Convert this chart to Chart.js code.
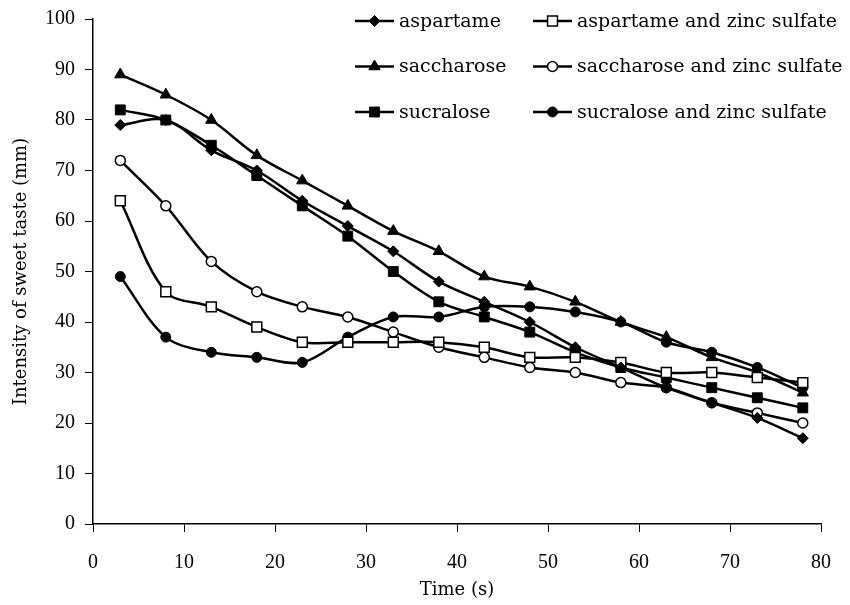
<!DOCTYPE html>
<html>
<head>
<meta charset="utf-8">
<script src="https://cdn.jsdelivr.net/npm/chart.js@4.4.0/dist/chart.umd.min.js"></script>
<style>
  html, body { margin: 0; padding: 0; background: #fff; }
  #wrap { width: 850px; height: 605px; }
</style>
</head>
<body>
<div id="wrap"><canvas id="sweetChart" width="850" height="605"></canvas></div>
<script>
// Données
var times = [3, 8, 13, 18, 23, 28, 33, 38, 43, 48, 53, 58, 63, 68, 73, 78];
var aspartame = [79, 80, 74, 70, 64, 59, 54, 48, 44, 40, 35, 31, 27, 24, 21, 17];
var aspartameZinc = [64, 46, 43, 39, 36, 36, 36, 36, 35, 33, 33, 32, 30, 30, 29, 28];
var saccharose = [89, 85, 80, 73, 68, 63, 58, 54, 49, 47, 44, 40, 37, 33, 30, 26];
var saccharoseZinc = [72, 63, 52, 46, 43, 41, 38, 35, 33, 31, 30, 28, 27, 24, 22, 20];
var sucralose = [82, 80, 75, 69, 63, 57, 50, 44, 41, 38, 34, 31, 29, 27, 25, 23];
var sucraloseZinc = [49, 37, 34, 33, 32, 37, 41, 41, 43, 43, 42, 40, 36, 34, 31, 27];
var seriesNames = ['aspartame', 'aspartame and zinc sulfate', 'saccharose', 'saccharose and zinc sulfate', 'sucralose', 'sucralose and zinc sulfate'];
var xTicks = [0, 10, 20, 30, 40, 50, 60, 70, 80];
var yTicks = [0, 10, 20, 30, 40, 50, 60, 70, 80, 90, 100];

var FONT = "'DejaVu Serif', serif";
var TICK_FONT = "'Liberation Serif', serif";

function points(vals) {
    return times.map(function (t, i) { return { x: t, y: vals[i] }; });
}

function serie(label, vals, style, radius, filled) {
    return {
        label: label,
        data: points(vals),
        borderColor: '#000',
        borderWidth: 2.5,
        tension: 0.33,
        pointStyle: style,
        pointRadius: radius,
        pointHoverRadius: radius,
        pointBackgroundColor: filled ? '#000' : '#fff',
        pointBorderColor: '#000',
        pointBorderWidth: filled ? 1 : 1.5
    };
}

var datasets = [
    serie(seriesNames[0], aspartame, 'rectRot', 5.5, true),
    serie(seriesNames[1], aspartameZinc, 'rect', 7, false),
    serie(seriesNames[2], saccharose, 'triangle', 6.5, true),
    serie(seriesNames[3], saccharoseZinc, 'circle', 5, false),
    serie(seriesNames[4], sucralose, 'rect', 7, true),
    serie(seriesNames[5], sucraloseZinc, 'circle', 5, true)
];

// Légende dessinée à la main (ligne + marqueur au milieu)
var legendCols = [355, 533];
var legendTop = 21;
var legendGap = 45.5;

var lineLegend = {
    id: 'lineLegend',
    afterDraw: function (chart) {
        var ctx = chart.ctx;
        chart.data.datasets.forEach(function (ds, i) {
            var x0 = legendCols[i % 2];
            var y = legendTop + Math.floor(i / 2) * legendGap;
            ctx.save();
            ctx.strokeStyle = '#000';
            ctx.lineWidth = 2.5;
            ctx.beginPath();
            ctx.moveTo(x0, y);
            ctx.lineTo(x0 + 39, y);
            ctx.stroke();
            ctx.fillStyle = ds.pointBackgroundColor;
            ctx.strokeStyle = ds.pointBorderColor;
            ctx.lineWidth = ds.pointBorderWidth;
            Chart.helpers.drawPoint(ctx, {
                pointStyle: ds.pointStyle,
                radius: ds.pointRadius,
                borderWidth: ds.pointBorderWidth,
                rotation: 0
            }, x0 + 19.5, y);
            ctx.fillStyle = '#000';
            ctx.font = '19px ' + FONT;
            ctx.textBaseline = 'middle';
            ctx.textAlign = 'left';
            ctx.fillText(ds.label, x0 + 44, y + 1);
            ctx.restore();
        });
    }
};

var ctx = document.getElementById('sweetChart').getContext('2d');

var myChart = new Chart(ctx, {
    type: 'line',
    data: { datasets: datasets },
    plugins: [lineLegend],
    options: {
        responsive: false,
        animation: false,
        layout: { padding: { left: 0, right: 27, top: 19, bottom: 0 } },
        plugins: {
            legend: { display: false },
            tooltip: { enabled: false }
        },
        scales: {
            x: {
                type: 'linear',
                min: 0,
                max: 80,
                afterBuildTicks: function (scale) {
                    scale.ticks = xTicks.map(function (v) { return { value: v }; });
                },
                afterFit: function (scale) { scale.height = 81; },
                grid: { display: true, drawOnChartArea: false, drawTicks: true, tickLength: 8, color: '#000', lineWidth: 1 },
                border: { display: true, color: '#000', width: 1.5 },
                ticks: { color: '#000', font: { family: TICK_FONT, size: 20 }, padding: 19, maxRotation: 0 },
                title: { display: true, text: 'Time (s)', color: '#000', font: { family: FONT, size: 18 }, padding: { top: 0, bottom: 4 } }
            },
            y: {
                min: 0,
                max: 100,
                afterBuildTicks: function (scale) {
                    scale.ticks = yTicks.map(function (v) { return { value: v }; });
                },
                afterFit: function (scale) {
                    scale.width = 93;
                    scale.paddingTop = 0;
                    scale.paddingBottom = 0;
                },
                grid: { display: true, drawOnChartArea: false, drawTicks: true, tickLength: 8, color: '#000', lineWidth: 1 },
                border: { display: true, color: '#000', width: 1.5 },
                ticks: { color: '#000', font: { family: TICK_FONT, size: 20 }, padding: 10 },
                title: { display: true, text: 'Intensity of sweet taste (mm)', color: '#000', font: { family: FONT, size: 18 }, padding: { top: 11, bottom: 0 } }
            }
        }
    }
});
</script>
</body>
</html>
